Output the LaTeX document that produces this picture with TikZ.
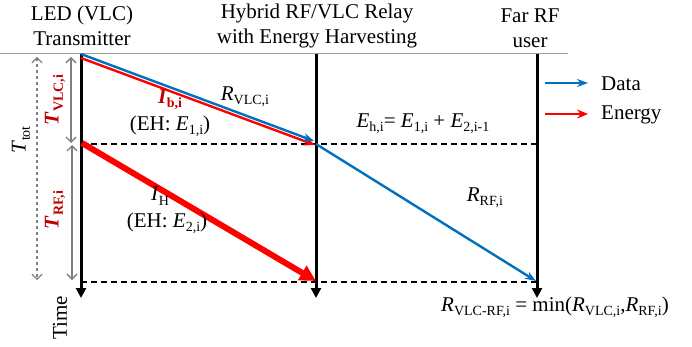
\documentclass[tikz,border=0pt]{standalone}
\usepackage{fontspec}
\setmainfont{Liberation Serif}
\usetikzlibrary{arrows.meta}
\definecolor{dataB}{HTML}{0070C0}
\definecolor{enR}{HTML}{FF0000}
\definecolor{labR}{HTML}{C00000}
\definecolor{spanG}{HTML}{808080}
\newcommand{\lsub}[1]{\raisebox{-0.45ex}{\fontsize{14}{14}\selectfont #1}}

\begin{document}
\begin{tikzpicture}[x=1pt, y=-1pt, font=\fontsize{21}{25}\selectfont,
    timeline/.style={line width=3pt, -{Triangle[length=10pt,width=10pt]}},
    slot/.style={dashed, dash pattern=on 6pt off 4pt, line width=1.3pt},
    datarr/.style={dataB, line width=2.4pt, -{Stealth[length=11pt,width=8pt]}},
    enarr/.style={enR, line width=2.4pt, -{Stealth[length=11pt,width=9pt]}},
    span/.style={spanG, line width=1.4pt, {Straight Barb[length=5pt,width=10pt]}-{Straight Barb[length=5pt,width=10pt]}},
    lab/.style={inner sep=0pt}]
  \useasboundingbox (0,0) rectangle (692,347);

  % header
  \node[lab, align=center] (hTx) at (82,26) {LED (VLC)\\Transmitter};
  \node[lab, align=center] (hRl) at (317,26) {Hybrid RF/VLC Relay\\with Energy Harvesting};
  \node[lab, align=center] (hUs) at (530,28) {Far RF\\user};
  \coordinate (hdrL) at (0,54);
  \coordinate (hdrR) at (568,54);
  \draw[gray!75, line width=1pt] (hdrL) -- (hdrR);

  % time axes
  \coordinate (txTop) at (81,54);  \coordinate (txBot) at (81,298);
  \coordinate (rlTop) at (316,54); \coordinate (rlBot) at (316,298);
  \coordinate (usTop) at (537,54); \coordinate (usBot) at (537,298);
  \draw[timeline] (txTop) -- (txBot);
  \draw[timeline] (rlTop) -- (rlBot);
  \draw[timeline] (usTop) -- (usBot);

  % slot borders
  \coordinate (s1L) at (81,144);  \coordinate (s1R) at (537,144);
  \coordinate (s2L) at (81,282);  \coordinate (s2R) at (537,282);
  \draw[slot] (s1L) -- (s1R);
  \draw[slot] (s2L) -- (s2R);

  % VLC phase
  \coordinate (eA) at (81,58);   \coordinate (eB) at (315,145);
  \coordinate (dA) at (81,54);   \coordinate (dB) at (314,141);
  \draw[enarr] (eA) -- (eB);
  \draw[datarr] (dA) -- (dB);
  \node[lab] (rVlc) at (245,97) {\textit{R}\lsub{VLC,i}};
  \node[lab, text=labR] (iB) at (170,100) {\textbf{\textit{I}}\lsub{\textbf{b,i}}};
  \node[lab] (eh1) at (170,126) {(EH: \textit{E}\lsub{1,i})};

  % RF phase
  \coordinate (hA) at (82,143);  \coordinate (hB) at (316,281);
  \coordinate (rA) at (316,144); \coordinate (rB) at (536,281);
  \draw[enR, line width=6pt, -{Triangle[length=16pt,width=16pt]}] (hA) -- (hB);
  \draw[datarr] (rA) -- (rB);
  \node[lab] (iH) at (160,196) {\textit{I}\lsub{H}};
  \node[lab] (eh2) at (167,223) {(EH: \textit{E}\lsub{2,i})};
  \node[lab] (ehSum) at (423,124) {\textit{E}\lsub{h,i}= \textit{E}\lsub{1,i} + \textit{E}\lsub{2,i-1}};
  \node[lab] (rRf) at (485,198) {\textit{R}\lsub{RF,i}};
  \node[lab] (rMin) at (555,307)
    {\textit{R}\lsub{VLC-RF,i} = min(\textit{R}\lsub{VLC,i},\textit{R}\lsub{RF,i})};

  % durations
  \coordinate (vTop) at (71,57);  \coordinate (vBot) at (71,143);
  \coordinate (fTop) at (72,145); \coordinate (fBot) at (72,280);
  \coordinate (tTop) at (37,57);  \coordinate (tBot) at (37,280);
  \draw[span] (vTop) -- (vBot);
  \draw[span] (fTop) -- (fBot);
  \draw[span, dashed, line width=1.1pt] (tTop) -- (tBot);
  \node[lab, rotate=90, text=labR] (tVlc) at (55,100) {\textbf{\textit{T}}\lsub{\textbf{VLC,i}}};
  \node[lab, rotate=90, text=labR] (tRf) at (55,210) {\textbf{\textit{T}}\lsub{\textbf{RF,i}}};
  \node[lab, rotate=90] (tTot) at (21,140) {\textit{T}\lsub{tot}};
  \node[lab, rotate=90] (time) at (60,318) {Time};

  % legend
  \coordinate (lgD1) at (545,83);  \coordinate (lgD2) at (588,83);
  \coordinate (lgE1) at (545,114); \coordinate (lgE2) at (588,114);
  \draw[datarr] (lgD1) -- (lgD2);
  \draw[enarr] (lgE1) -- (lgE2);
  \node[lab, anchor=west] (lgData) at (601,84) {Data};
  \node[lab, anchor=west] (lgEn) at (601,115) {Energy};
\end{tikzpicture}
\end{document}
